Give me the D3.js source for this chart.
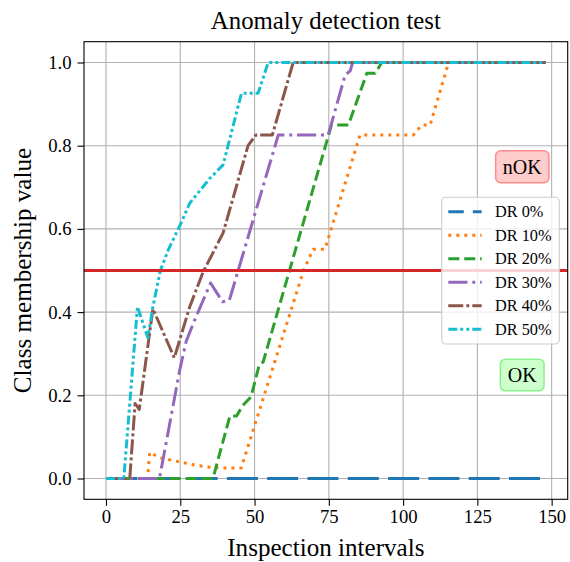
<!DOCTYPE html>
<html>
<head>
<meta charset="utf-8">
<script src="https://cdn.jsdelivr.net/npm/d3@7"></script>
<style>
  html, body { margin: 0; padding: 0; background: #fff; }
  svg { display: block; font-family: "Liberation Serif", "Times New Roman", serif; }
</style>
</head>
<body>
<svg id="chart" width="570" height="562"></svg>
<script>
// ---- data ----
const seriesNames = ["DR 0%", "DR 10%", "DR 20%", "DR 30%", "DR 40%", "DR 50%"];
const dr0X  = [0, 148];
const dr0Y  = [0, 0];
const dr10X = [0, 14, 14.7, 18, 24.8, 30, 33.8, 39.4, 45.5, 66.5, 69.7, 73.7, 85.5, 103.5, 106.3, 109.1, 114.7, 115.5, 148];
const dr10Y = [0, 0, 0.063, 0.05, 0.04, 0.032, 0.028, 0.025, 0.025, 0.5, 0.551, 0.551, 0.826, 0.826, 0.85, 0.85, 0.985, 1, 1];
const dr20X = [0, 36, 41.7, 43.9, 46.1, 48.8, 51.6, 52.9, 75.9, 81.6, 87.8, 90.6, 92.8, 148];
const dr20Y = [0, 0, 0.15, 0.15, 0.176, 0.196, 0.274, 0.28, 0.85, 0.85, 0.974, 0.974, 1, 1];
const dr30X = [0, 18, 24.8, 27, 29.8, 35.2, 39.2, 41.5, 58, 74.8, 80.5, 82.2, 83, 148];
const dr30Y = [0, 0, 0.26, 0.33, 0.38, 0.47, 0.425, 0.428, 0.826, 0.826, 0.97, 0.98, 1, 1];
const dr40X = [0, 8, 9.8, 11.2, 15.8, 23, 28.2, 32.6, 39.4, 47.8, 50.5, 56, 63, 148];
const dr40Y = [0, 0, 0.18, 0.166, 0.408, 0.29, 0.413, 0.495, 0.59, 0.8, 0.826, 0.826, 1, 1];
const dr50X = [0, 6, 10.6, 14.1, 15.8, 18.3, 21, 24.8, 28.2, 34.9, 39.4, 45.6, 51.2, 54.6, 148];
const dr50Y = [0, 0, 0.413, 0.338, 0.413, 0.5, 0.55, 0.607, 0.662, 0.721, 0.754, 0.926, 0.926, 1, 1];
const thresholdValue = 0.5;
const xTicks = [0, 25, 50, 75, 100, 125, 150];
const yTicks = [0.0, 0.2, 0.4, 0.6, 0.8, 1.0];
const titleText = "Anomaly detection test";
const xLabelText = "Inspection intervals";
const yLabelText = "Class membership value";

// ---- styles ----
const colors = ["#1f77b4", "#ff7f0e", "#2ca02c", "#9467bd", "#8c564b", "#17becf"];
const dashPlot = ["31,9.3", "3,5", "11.1,4.8", "19.2,4.8,3,4.8", "15,3,3,3", "9,3,3,3,3,3"];
const dashLegend = ["15.5,9", "3,5", "11.1,4.8", "19.2,4.8,3,4.8", "15,3,3,3", "9,3,3,3,3,3"];
const seriesX = [dr0X, dr10X, dr20X, dr30X, dr40X, dr50X];
const seriesY = [dr0Y, dr10Y, dr20Y, dr30Y, dr40Y, dr50Y];

const svg = d3.select("#chart");
const L = 84, R = 567.7, T = 41.7, B = 499.3;

const x = d3.scaleLinear().domain([-7.4, 155.4]).range([L, R]);
const y = d3.scaleLinear().domain([-0.05, 1.05]).range([B, T]);

svg.append("defs").append("clipPath").attr("id", "clip")
  .append("rect").attr("x", L).attr("y", T).attr("width", R - L).attr("height", B - T);

// grid
const grid = svg.append("g");
grid.selectAll("line.gx").data(xTicks).join("line")
  .attr("x1", d => x(d)).attr("x2", d => x(d)).attr("y1", T).attr("y2", B)
  .attr("stroke", "#b0b0b0").attr("stroke-width", 1.1);
grid.selectAll("line.gy").data(yTicks).join("line")
  .attr("class", "gy")
  .attr("y1", d => y(d)).attr("y2", d => y(d)).attr("x1", L).attr("x2", R)
  .attr("stroke", "#b0b0b0").attr("stroke-width", 1.1);

// series
const plot = svg.append("g").attr("clip-path", "url(#clip)");
const line = d3.line().x(d => x(d[0])).y(d => y(d[1]));
seriesNames.forEach((name, i) => {
  const pts = seriesX[i].map((v, j) => [v, seriesY[i][j]]);
  plot.append("path").datum(pts)
    .attr("d", line)
    .attr("fill", "none")
    .attr("stroke", colors[i])
    .attr("stroke-width", 3)
    .attr("stroke-dasharray", dashPlot[i])
    .attr("stroke-linejoin", "round");
});

// threshold line
plot.append("line")
  .attr("x1", L).attr("x2", R)
  .attr("y1", y(thresholdValue)).attr("y2", y(thresholdValue))
  .attr("stroke", "#d62728").attr("stroke-width", 2.8);

// axes
const xAxis = d3.axisBottom(x).tickValues(xTicks).tickSize(6.5).tickPadding(4).tickFormat(d3.format("d"));
const yAxis = d3.axisLeft(y).tickValues(yTicks).tickSize(6.5).tickPadding(6).tickFormat(d3.format(".1f"));
const gx = svg.append("g").attr("transform", `translate(0,${B})`).call(xAxis);
const gy = svg.append("g").attr("transform", `translate(${L},0)`).call(yAxis);
[gx, gy].forEach(g => {
  g.select(".domain").remove();
  g.selectAll(".tick line").attr("stroke", "#000").attr("stroke-width", 1.1);
  g.selectAll(".tick text").attr("fill", "#000")
    .style("font-family", '"Liberation Serif", serif').style("font-size", "18.7px");
});
gx.selectAll(".tick text").attr("dy", "0.71em");

// frame
svg.append("rect").attr("x", L).attr("y", T).attr("width", R - L).attr("height", B - T)
  .attr("fill", "none").attr("stroke", "#000").attr("stroke-width", 1.1);

// title & labels
svg.append("text").attr("x", (L + R) / 2).attr("y", 29.3).attr("text-anchor", "middle")
  .style("font-size", "24.8px").text(titleText);
svg.append("text").attr("x", (L + R) / 2).attr("y", 556).attr("text-anchor", "middle")
  .style("font-size", "25.1px").text(xLabelText);
svg.append("text").attr("transform", `translate(31,${(T + B) / 2}) rotate(-90)`)
  .attr("text-anchor", "middle").style("font-size", "25.1px").text(yLabelText);

// nOK / OK annotations
function badge(cx, cy, w, h, label, fill, stroke) {
  svg.append("rect").attr("x", cx - w / 2).attr("y", cy - h / 2).attr("width", w).attr("height", h)
    .attr("rx", 5).attr("fill", fill).attr("stroke", stroke).attr("stroke-width", 1.5);
  svg.append("text").attr("x", cx).attr("y", cy).attr("dy", "0.34em").attr("text-anchor", "middle")
    .style("font-size", "20px").text(label);
}
badge(522.3, 166.7, 53.3, 32, "nOK", "#ffcccc", "#ff8c8c");
badge(522.2, 375, 43.7, 31.7, "OK", "#ccffcc", "#8cf08c");

// legend
const lg = svg.append("g");
lg.append("rect").attr("x", 441.7).attr("y", 197.3).attr("width", 117.6).attr("height", 146.7)
  .attr("rx", 4).attr("fill", "#fff").attr("fill-opacity", 0.8)
  .attr("stroke", "#cccccc").attr("stroke-width", 1.1);
seriesNames.forEach((name, i) => {
  const cy = 211.7 + i * 23.5;
  lg.append("line").attr("x1", 448.3).attr("x2", 481.7).attr("y1", cy).attr("y2", cy)
    .attr("stroke", colors[i]).attr("stroke-width", 3).attr("stroke-dasharray", dashLegend[i]);
  lg.append("text").attr("x", 495).attr("y", cy).attr("dy", "0.35em")
    .style("font-size", "16.3px").text(name);
});
</script>
</body>
</html>
